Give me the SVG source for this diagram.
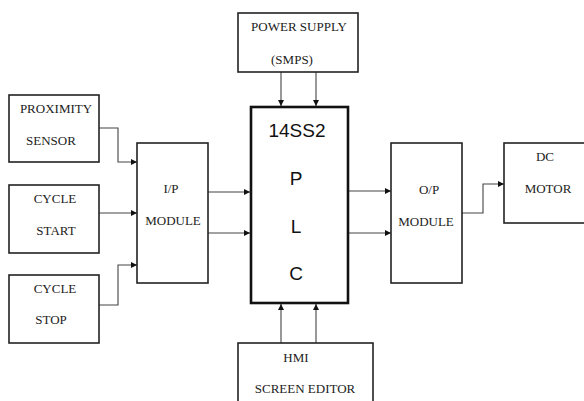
<svg xmlns="http://www.w3.org/2000/svg" width="584" height="401" viewBox="0 0 584 401">
<defs>
<marker id="ah" viewBox="0 0 8 8" refX="8" refY="4" markerWidth="6" markerHeight="6" markerUnits="userSpaceOnUse" orient="auto">
<path d="M0,0 L8,4 L0,8 z" fill="#111"/>
</marker>
<style>
.box{fill:#fff;stroke:#222;stroke-width:1.6}
.plc{fill:#fff;stroke:#111;stroke-width:2.6}
.t{font-family:"Liberation Serif","Times New Roman",serif;font-size:13px;fill:#222;text-anchor:middle}
.p{font-family:"Liberation Sans",Arial,sans-serif;font-size:19px;fill:#111;text-anchor:middle}
.c{fill:none;stroke:#444;stroke-width:1.1;marker-end:url(#ah)}
</style>
</defs>
<rect width="584" height="401" fill="#fff"/>
<g id="connectors">
<path class="c" d="M99,128 H118 V162 H137"/>
<path class="c" d="M99,213 H137"/>
<path class="c" d="M99,305 H118 V265 H137"/>
<path class="c" d="M208,192 H250"/>
<path class="c" d="M208,233 H250"/>
<path class="c" d="M281,72 V106"/>
<path class="c" d="M316,72 V106"/>
<path class="c" d="M281,343 V304"/>
<path class="c" d="M316,343 V304"/>
<path class="c" d="M348,191 H391"/>
<path class="c" d="M348,233 H391"/>
<path class="c" d="M462,213 H483 V184 H504"/>
</g>
<g id="proximity">
<rect class="box" x="9" y="95" width="90" height="67"/>
<text class="t" x="56" y="113">PROXIMITY</text>
<text class="t" x="51" y="145">SENSOR</text>
</g>
<g id="cycle-start">
<rect class="box" x="9" y="185" width="90" height="68"/>
<text class="t" x="55" y="203">CYCLE</text>
<text class="t" x="56" y="235">START</text>
</g>
<g id="cycle-stop">
<rect class="box" x="9" y="275" width="90" height="68"/>
<text class="t" x="55" y="293">CYCLE</text>
<text class="t" x="51" y="324">STOP</text>
</g>
<g id="ip-module">
<rect class="box" x="137" y="143" width="71" height="140"/>
<text class="t" x="171" y="193">I/P</text>
<text class="t" x="173" y="225">MODULE</text>
</g>
<g id="power-supply">
<rect class="box" x="238" y="13" width="120" height="59"/>
<text class="t" x="299" y="31">POWER SUPPLY</text>
<text class="t" x="292" y="64">(SMPS)</text>
</g>
<g id="plc">
<rect class="plc" x="251" y="107" width="97" height="196"/>
<text class="p" x="297" y="137">14SS2</text>
<text class="p" x="296" y="185">P</text>
<text class="p" x="296" y="233">L</text>
<text class="p" x="296" y="280">C</text>
</g>
<g id="hmi">
<rect class="box" x="238" y="343" width="135" height="70"/>
<text class="t" x="296" y="362">HMI</text>
<text class="t" x="305" y="393">SCREEN EDITOR</text>
</g>
<g id="op-module">
<rect class="box" x="391" y="143" width="71" height="140"/>
<text class="t" x="429" y="194">O/P</text>
<text class="t" x="426" y="226">MODULE</text>
</g>
<g id="dc-motor">
<rect class="box" x="504" y="143" width="90" height="80"/>
<text class="t" x="545" y="161">DC</text>
<text class="t" x="548" y="193">MOTOR</text>
</g>
</svg>
